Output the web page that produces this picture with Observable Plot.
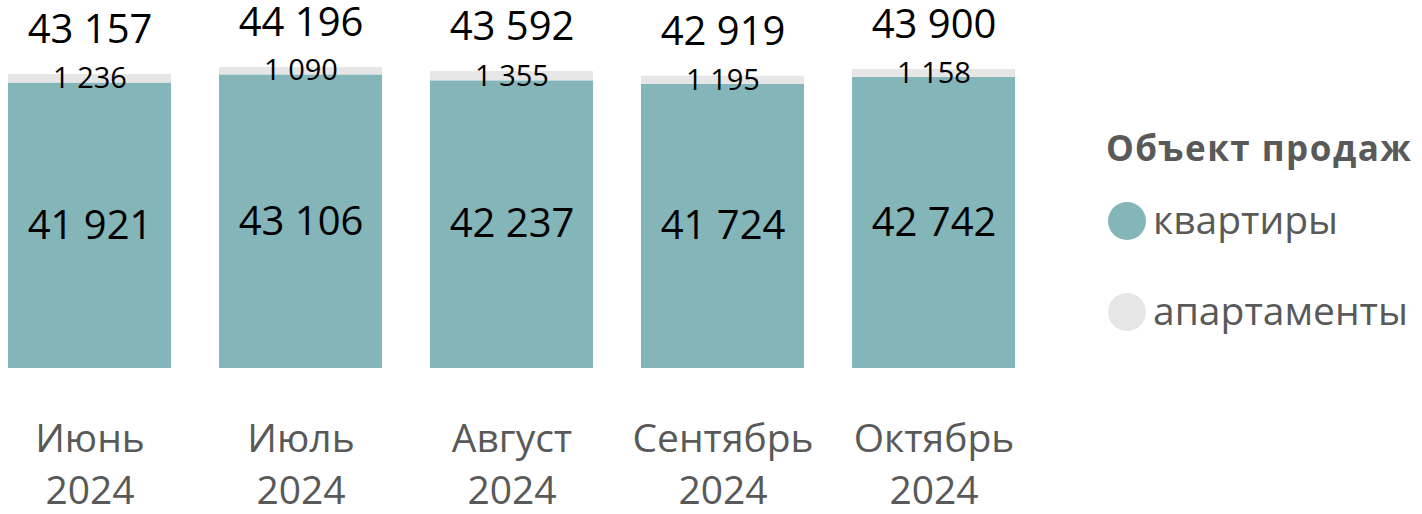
<!DOCTYPE html>
<html>
<head>
<meta charset="utf-8">
<script src="https://cdn.jsdelivr.net/npm/d3@7"></script>
<script src="https://cdn.jsdelivr.net/npm/@observablehq/plot@0.6"></script>
<style>
  body { margin: 0; background: #fff; }
  #wrap { position: relative; width: 1422px; height: 514px; font-family: "Open Sans", sans-serif; overflow: hidden; }
  #chart { position: absolute; left: 0; top: 0; }
  #chart svg { overflow: visible; }
  .lg-title { position: absolute; left: 1106px; top: 131px; font-size: 35px; line-height: 34px; font-weight: 700; letter-spacing: 1.5px; color: #595959; white-space: nowrap; }
  .lg-item { position: absolute; left: 1108px; height: 50px; display: flex; align-items: center; color: #595959; font-size: 39px; white-space: nowrap; }
  .lg-dot { width: 38px; height: 38px; border-radius: 50%; flex: none; }
  .lg-text { margin-left: 7px; position: relative; top: -3px; }
</style>
</head>
<body>
<div id="wrap">
  <div id="chart"></div>
  <div id="legend"></div>
</div>
<script>
// ---- data ----
const months = ["Июнь", "Июль", "Август", "Сентябрь", "Октябрь"];
const year = "2024";
const series = ["квартиры", "апартаменты"];
const flats = [41921, 43106, 42237, 41724, 42742];
const apartments = [1236, 1090, 1355, 1195, 1158];
const totals = [43157, 44196, 43592, 42919, 43900];
const colors = ["#84b5b9", "#e6e6e6"];
const legendTitle = "Объект продаж";

// ---- build table ----
const rows = [];
months.forEach((m, i) => {
  rows.push({month: m, series: series[0], value: flats[i]});
  rows.push({month: m, series: series[1], value: apartments[i]});
});
const totalRows = months.map((m, i) => ({month: m, total: totals[i]}));

const fmt = v => d3.format(",")(v).replace(/,/g, " ");
const font = "Open Sans";

const chart = Plot.plot({
  width: 1422,
  height: 514,
  marginLeft: 0,
  marginRight: 398,
  marginTop: 67,
  marginBottom: 146,
  style: {fontFamily: font, background: "transparent", overflow: "visible"},
  x: {domain: months, paddingInner: 0.227, paddingOuter: 0.04, label: null},
  y: {domain: [0, d3.max(totals)], axis: null},
  color: {domain: series, range: colors},
  marks: [
    Plot.barY(rows, {x: "month", y: "value", fill: "series"}),
    Plot.text(rows, Plot.stackY({
      x: "month", y: "value", z: "series",
      text: d => fmt(d.value),
      fontSize: d => d.series === series[0] ? 40 : 29,
      fill: "#000"
    })),
    Plot.text(totalRows, {x: "month", y: "total", text: d => fmt(d.total), fontSize: 40, dy: -44, fill: "#000"}),
    Plot.axisX({
      tickSize: 0, tickPadding: 46, fontSize: 39, lineHeight: 1.34,
      fill: "#595959", tickFormat: d => d + "\n" + year, label: null
    })
  ]
});
document.getElementById("chart").appendChild(chart);

// ---- legend ----
const lg = document.getElementById("legend");
const t = document.createElement("div");
t.className = "lg-title";
t.textContent = legendTitle;
lg.appendChild(t);
const centers = [221, 312];
series.forEach((s, i) => {
  const it = document.createElement("div");
  it.className = "lg-item";
  it.style.top = (centers[i] - 25) + "px";
  const dot = document.createElement("span");
  dot.className = "lg-dot";
  dot.style.background = colors[i];
  const tx = document.createElement("span");
  tx.className = "lg-text";
  tx.textContent = s;
  it.appendChild(dot);
  it.appendChild(tx);
  lg.appendChild(it);
});
</script>
</body>
</html>
